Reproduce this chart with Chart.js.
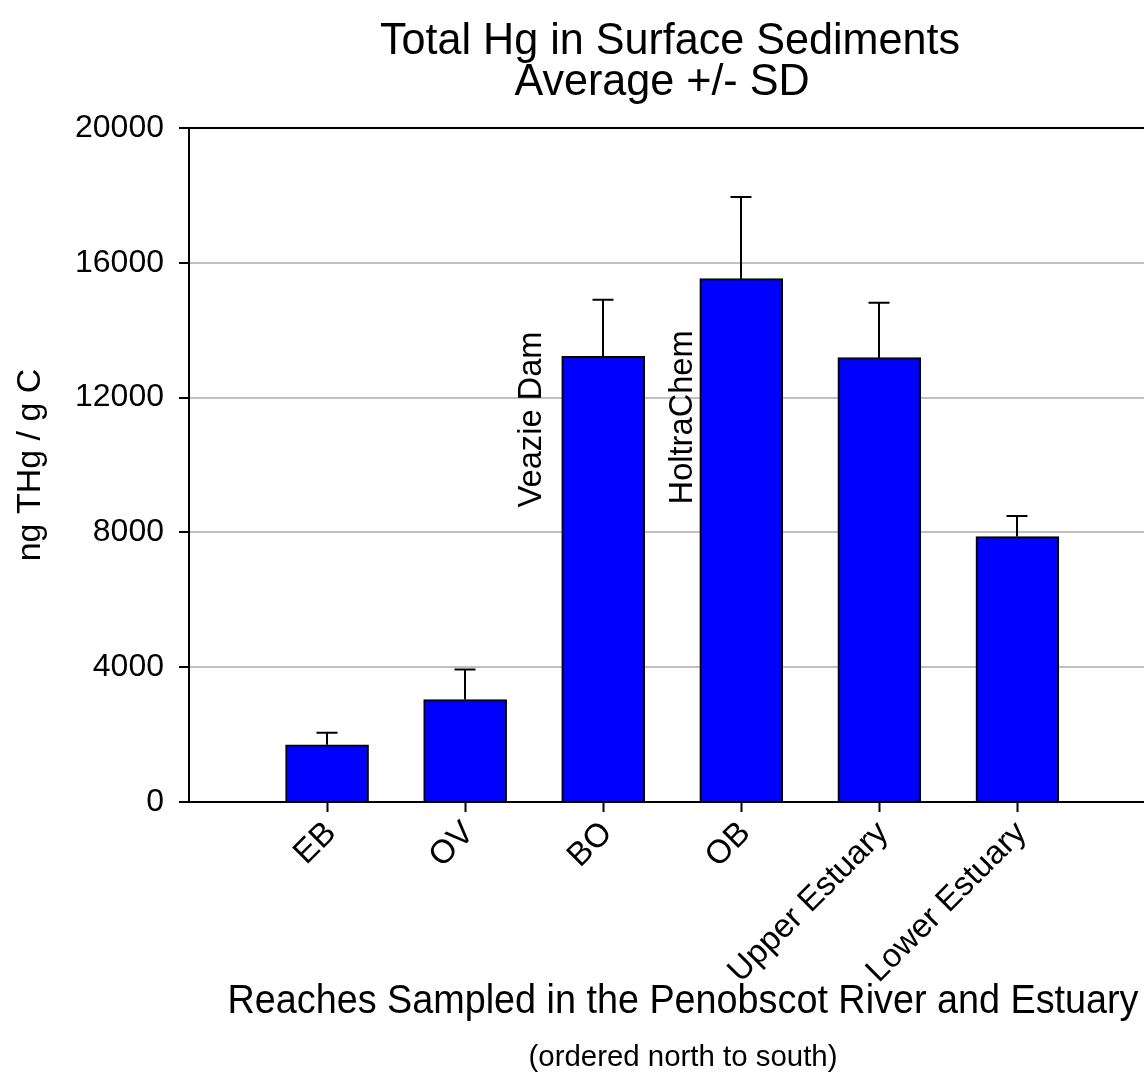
<!DOCTYPE html>
<html>
<head>
<meta charset="utf-8">
<script src="https://cdn.jsdelivr.net/npm/chart.js@4.4.1/dist/chart.umd.min.js"></script>
<style>
  html, body { margin: 0; padding: 0; background: #ffffff; overflow: hidden; }
  #wrap { width: 1144px; height: 1076px; position: relative; }
</style>
</head>
<body>
<div id="wrap"><canvas id="chart" width="1144" height="1076"></canvas></div>
<script>
// Reaches of the Penobscot River and Estuary, ordered north to south
const reaches = ['EB', 'OV', 'BO', 'OB', 'Upper Estuary', 'Lower Estuary'];
// Average total Hg (ng THg / g C) and one standard deviation
const meanTHg = [1697, 3040, 13225, 15530, 13185, 7875];
const sdTHg = [356, 890, 1680, 2420, 1630, 615];
// Value axis ticks
const yTicks = [0, 4000, 8000, 12000, 16000, 20000];
// Site notes placed beside the bars
const noteLabels = ['Veazie Dam', 'HoltraChem'];

const FAMILY = '"Liberation Sans", Arial, Helvetica, sans-serif';

// Draws text with an optional horizontal squeeze and rotation
function drawText(ctx, text, x, y, size, opts = {}) {
  const sx = opts.sx || 1;
  ctx.save();
  ctx.translate(x, y);
  if (opts.rotate) ctx.rotate(opts.rotate);
  ctx.scale(sx, 1);
  ctx.font = size + 'px ' + FAMILY;
  ctx.fillStyle = '#000000';
  ctx.textAlign = opts.align || 'center';
  ctx.textBaseline = 'alphabetic';
  ctx.fillText(text, 0, 0);
  ctx.restore();
}

// Upper standard-deviation whiskers
const errorBars = {
  id: 'errorBars',
  afterDatasetsDraw(chart) {
    const { ctx, scales: { x, y } } = chart;
    ctx.save();
    ctx.strokeStyle = '#000000';
    ctx.lineWidth = 2;
    meanTHg.forEach((m, i) => {
      const px = Math.round(x.getPixelForValue(i + 1));
      const y0 = y.getPixelForValue(m);
      const y1 = y.getPixelForValue(m + sdTHg[i]);
      ctx.beginPath();
      ctx.moveTo(px, y0);
      ctx.lineTo(px, y1);
      ctx.moveTo(px - 10.5, y1);
      ctx.lineTo(px + 10.5, y1);
      ctx.stroke();
    });
    ctx.restore();
  }
};

// Titles and the vertical site notes
const chartText = {
  id: 'chartText',
  afterDraw(chart) {
    const { ctx, scales: { x, y } } = chart;
    drawText(ctx, 'Total Hg in Surface Sediments', 670, 54, 44, { sx: 0.98 });
    drawText(ctx, 'Average +/- SD', 662, 95, 44, { sx: 0.98 });
    drawText(ctx, 'Reaches Sampled in the Penobscot River and Estuary', 683, 1013, 40, { sx: 0.944 });
    drawText(ctx, '(ordered north to south)', 683, 1066, 30, { sx: 0.98 });
    // notes sit just left of the BO and OB bars, reading upward
    const anchors = [[2.547, 8740], [3.641, 8830]];
    noteLabels.forEach((t, i) => {
      drawText(ctx, t, x.getPixelForValue(anchors[i][0]), y.getPixelForValue(anchors[i][1]), 34,
        { sx: 0.96, rotate: -Math.PI / 2, align: 'left' });
    });
  }
};

new Chart(document.getElementById('chart').getContext('2d'), {
  type: 'bar',
  data: {
    datasets: [{
      data: reaches.map((r, i) => ({ x: i + 1, y: meanTHg[i] })),
      backgroundColor: '#0000ff',
      borderColor: '#000000',
      borderWidth: 2,
      borderSkipped: 'bottom',
      barThickness: 83
    }]
  },
  options: {
    responsive: false,
    animation: false,
    devicePixelRatio: 1,
    layout: { padding: { top: 128, left: 0, right: 0, bottom: 0 } },
    plugins: {
      legend: { display: false },
      tooltip: { enabled: false },
      title: { display: false }
    },
    scales: {
      x: {
        type: 'linear',
        min: 0,
        max: 6.917,
        offset: false,
        afterBuildTicks: s => { s.ticks = reaches.map((_, i) => ({ value: i + 1 })); },
        afterFit: s => { s.height = 274; },
        ticks: {
          autoSkip: false,
          minRotation: 45,
          maxRotation: 45,
          padding: 2,
          labelOffset: 4,
          color: '#000000',
          font: { family: FAMILY, size: 33 },
          callback: v => reaches[v - 1] || ''
        },
        grid: { offset: false, drawOnChartArea: false, drawTicks: true, tickLength: 10, tickColor: '#000000', tickWidth: 2 },
        border: { color: '#000000', width: 2 }
      },
      y: {
        min: 0,
        max: 20000,
        afterBuildTicks: s => { s.ticks = yTicks.map(v => ({ value: v })); },
        afterFit: s => { s.width = 189; },
        ticks: {
          padding: 15,
          color: '#000000',
          font: { family: FAMILY, size: 32 },
          callback: v => String(v)
        },
        grid: {
          color: c => (c.tick && c.tick.value === 20000) ? '#000000' : (c.tick && c.tick.value === 0 ? 'rgba(0,0,0,0)' : '#c0c0c0'),
          lineWidth: 2,
          tickLength: 10,
          tickColor: '#000000',
          tickWidth: 2
        },
        border: { color: '#000000', width: 2 },
        title: {
          display: true,
          text: 'ng THg / g C',
          color: '#000000',
          font: { family: FAMILY, size: 34 },
          padding: { top: 10, bottom: 0 }
        }
      }
    }
  },
  plugins: [errorBars, chartText]
});
</script>
</body>
</html>
